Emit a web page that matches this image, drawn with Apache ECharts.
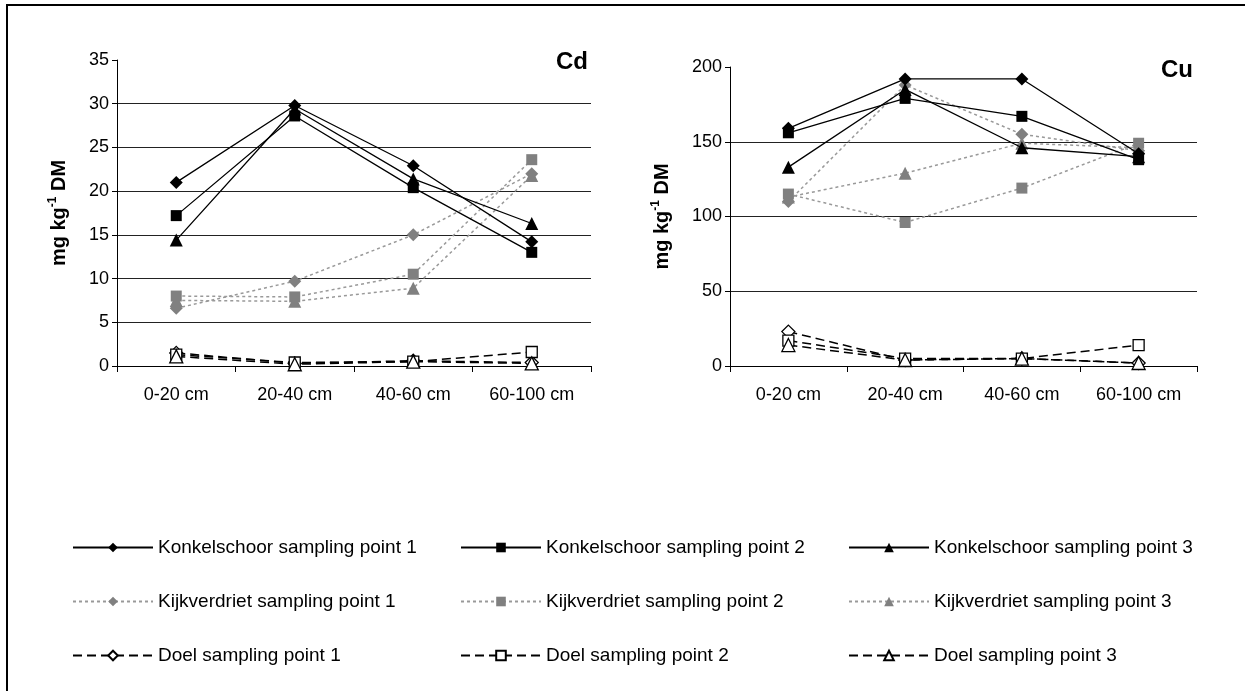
<!DOCTYPE html>
<html><head><meta charset="utf-8">
<script src="https://cdn.jsdelivr.net/npm/echarts@6/dist/echarts.min.js"></script>
<style>html,body{margin:0;padding:0;background:#fff}#c{width:1245px;height:691px}</style>
</head><body><div id="c"></div>
<script>
const categories = ['0-20 cm', '20-40 cm', '40-60 cm', '60-100 cm'];
const seriesNames = [
  'Konkelschoor sampling point 1', 'Konkelschoor sampling point 2', 'Konkelschoor sampling point 3',
  'Kijkverdriet sampling point 1', 'Kijkverdriet sampling point 2', 'Kijkverdriet sampling point 3',
  'Doel sampling point 1', 'Doel sampling point 2', 'Doel sampling point 3'
];
// Cd (mg/kg DM)
const cdKonkel1 = [21.0, 29.8, 22.9, 14.2];
const cdKonkel2 = [17.2, 28.6, 20.4, 13.0];
const cdKonkel3 = [14.4, 29.4, 21.4, 16.3];
const cdKijk1 = [6.6, 9.7, 15.0, 22.0];
const cdKijk2 = [8.0, 7.9, 10.5, 23.6];
const cdKijk3 = [7.5, 7.4, 8.9, 21.8];
const cdDoel1 = [1.5, 0.3, 0.6, 0.4];
const cdDoel2 = [1.3, 0.4, 0.5, 1.6];
const cdDoel3 = [1.1, 0.2, 0.5, 0.3];
// Cu (mg/kg DM)
const cuKonkel1 = [159, 192, 192, 142];
const cuKonkel2 = [156, 179, 167, 138];
const cuKonkel3 = [133, 185, 146, 140];
const cuKijk1 = [110, 188, 155, 144];
const cuKijk2 = [115, 96, 119, 149];
const cuKijk3 = [113, 129, 149, 146];
const cuDoel1 = [23, 4, 5, 2];
const cuDoel2 = [17, 5, 5, 14];
const cuDoel3 = [14, 4, 5, 2];
const cdTicks = {min: 0, max: 35, interval: 5};
const cuTicks = {min: 0, max: 200, interval: 50};

const FONT = 'Liberation Sans, Arial, sans-serif';
const cdData = [cdKonkel1, cdKonkel2, cdKonkel3, cdKijk1, cdKijk2, cdKijk3, cdDoel1, cdDoel2, cdDoel3];
const cuData = [cuKonkel1, cuKonkel2, cuKonkel3, cuKijk1, cuKijk2, cuKijk3, cuDoel1, cuDoel2, cuDoel3];
const symbols = ['diamond', 'rect', 'triangle'];
const symSizes = [13, 11, 13];

function styleFor(i) {
  const group = Math.floor(i / 3), k = i % 3;
  const s = {symbol: symbols[k], symbolSize: symSizes[k]};
  if (group === 0) {
    s.lineStyle = {color: '#000', width: 1.3, type: 'solid'};
    s.itemStyle = {color: '#000'};
  } else if (group === 1) {
    s.lineStyle = {color: '#999', width: 1.5, type: [3, 3]};
    s.itemStyle = {color: '#808080'};
  } else {
    s.lineStyle = {color: '#000', width: 1.5, type: [9, 5]};
    s.itemStyle = {color: '#fff', borderColor: '#000', borderWidth: 1.3};
  }
  return s;
}

const series = [];
[cdData, cuData].forEach((arr, gi) => {
  arr.forEach((vals, i) => {
    series.push(Object.assign({
      type: 'line', name: seriesNames[i], data: vals,
      xAxisIndex: gi, yAxisIndex: gi, showAllSymbol: true, animation: false,
      z: 10 - Math.floor(i / 3)
    }, styleFor(i)));
  });
});

const colX = [72, 460, 848];
const rowY = [538, 592, 646];
const legends = seriesNames.map((n, i) => ({
  data: [n], left: colX[i % 3], top: rowY[Math.floor(i / 3)],
  orient: 'horizontal', padding: 0, itemWidth: 80, itemHeight: 12, itemGap: 3,
  selectedMode: false,
  textStyle: {fontSize: 19, color: '#000', fontFamily: FONT}
}));

function yAxis(gi, ticks, gap) {
  return {
    type: 'value', gridIndex: gi, min: ticks.min, max: ticks.max, interval: ticks.interval,
    axisLine: {show: true, lineStyle: {color: '#000', width: 1}},
    axisTick: {show: true, length: 5, lineStyle: {color: '#000'}},
    axisLabel: {fontSize: 18, color: '#000', fontFamily: FONT, margin: 8},
    splitLine: {show: true, showMaxLine: false, showMinLine: false, lineStyle: {color: '#222', width: 1}},
    name: '{a|mg kg}{s|-1}{a| DM}', nameLocation: 'middle', nameRotate: 90, nameGap: gap,
    nameTextStyle: {
      fontFamily: FONT, color: '#000',
      rich: {
        a: {fontSize: 20, fontWeight: 'bold', fontFamily: FONT, color: '#000', lineHeight: 24},
        s: {fontSize: 12, fontWeight: 'bold', fontFamily: FONT, color: '#000', verticalAlign: 'top', lineHeight: 24}
      }
    }
  };
}
function xAxis(gi) {
  return {
    type: 'category', gridIndex: gi, data: categories, boundaryGap: true,
    axisLine: {show: true, lineStyle: {color: '#000', width: 1}},
    axisTick: {show: true, length: 6, lineStyle: {color: '#000'}},
    axisLabel: {fontSize: 18, color: '#000', fontFamily: FONT, margin: 20},
    splitLine: {show: false}
  };
}

const option = {
  animation: false,
  backgroundColor: '#fff',
  title: [
    {text: 'Cd', left: 556, top: 50, padding: 0, textStyle: {fontSize: 24, fontWeight: 'bold', color: '#000', fontFamily: FONT}},
    {text: 'Cu', left: 1161, top: 58, padding: 0, textStyle: {fontSize: 24, fontWeight: 'bold', color: '#000', fontFamily: FONT}}
  ],
  grid: [
    {left: 117, right: 654, top: 60, bottom: 325},
    {left: 730, right: 48, top: 67, bottom: 325}
  ],
  xAxis: [xAxis(0), xAxis(1)],
  yAxis: [yAxis(0, cdTicks, 46), yAxis(1, cuTicks, 56)],
  legend: legends,
  series: series,
  graphic: [{
    type: 'rect', shape: {x: 7, y: 5, width: 1400, height: 900},
    style: {fill: 'none', stroke: '#000', lineWidth: 2}, silent: true
  }]
};
const chart = echarts.init(document.getElementById('c'), null, {renderer: 'canvas'});
chart.setOption(option);
</script>
</body></html>
